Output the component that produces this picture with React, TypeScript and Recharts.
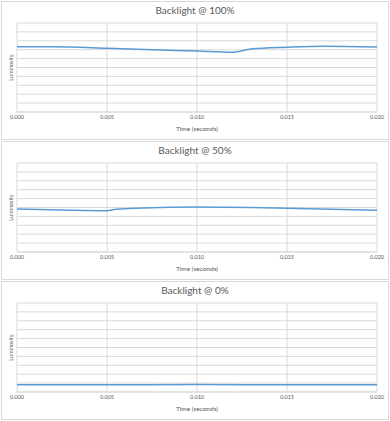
import React from "react";
import {
  LineChart,
  Line,
  XAxis,
  YAxis,
  CartesianGrid,
  Label,
} from "recharts";

const timeTicks = [0, 0.005, 0.01, 0.015, 0.02];
const yTicks = [0, 1, 2, 3, 4, 5, 6, 7, 8, 9, 10];

const time100 = [0, 0.002, 0.005, 0.008, 0.01, 0.012, 0.013, 0.015, 0.017, 0.02];
const lum100 = [7.34, 7.32, 7.16, 6.97, 6.85, 6.71, 7.08, 7.27, 7.38, 7.3];

const time50 = [0, 0.0025, 0.005, 0.0055, 0.007, 0.01, 0.013, 0.015, 0.02];
const lum50 = [4.83, 4.72, 4.64, 4.8, 4.94, 5.06, 5.0, 4.91, 4.68];

const time0 = [0, 0.005, 0.01, 0.015, 0.02];
const lum0 = [0.82, 0.82, 0.83, 0.82, 0.82];

const panels = [
  { title: "Backlight @ 100%", time: time100, lum: lum100 },
  { title: "Backlight @ 50%", time: time50, lum: lum50 },
  { title: "Backlight @ 0%", time: time0, lum: lum0 },
];

const FONT = "Lato, 'Open Sans', sans-serif";
const GRID = "#d9d9d9";
const TEXT = "#595959";

const Panel = ({ title, time, lum, top }: any) => {
  const data = time.map((t: number, i: number) => ({ t, v: lum[i] }));
  return (
    <div style={{ position: "absolute", left: 0, top, width: 390, height: 140 }}>
      <div
        style={{
          position: "absolute",
          left: 1,
          top: 1,
          width: 386,
          height: 137,
          border: `1px solid ${GRID}`,
          pointerEvents: "none",
        }}
      />
      <div
        style={{
          position: "absolute",
          left: 0,
          top: 4,
          width: 390,
          textAlign: "center",
          fontFamily: FONT,
          fontSize: 10,
          lineHeight: "12px",
          color: TEXT,
        }}
      >
        {title}
      </div>
      <LineChart
        width={390}
        height={140}
        data={data}
        margin={{ top: 23, right: 13, left: 0, bottom: 0 }}
        style={{ position: "absolute", left: 0, top: 0 }}
      >
        <CartesianGrid stroke={GRID} />
        <XAxis
          dataKey="t"
          type="number"
          domain={[0, 0.02]}
          ticks={timeTicks}
          tickFormatter={(v: number) => v.toFixed(3)}
          tickLine={false}
          tickSize={0}
          tickMargin={3}
          axisLine={{ stroke: GRID }}
          height={28}
          tick={{ fontSize: 5.5, fill: TEXT, fontFamily: FONT }}
          interval={0}
        >
          <Label
            value="Time (seconds)"
            position="insideBottom"
            offset={9}
            style={{ fontSize: 6.5, fill: TEXT, fontFamily: FONT }}
          />
        </XAxis>
        <YAxis
          type="number"
          domain={[0, 10]}
          ticks={yTicks}
          interval={0}
          tick={() => null}
          tickLine={false}
          axisLine={false}
          width={17}
        >
          <Label
            value="Luminosity"
            angle={-90}
            position="center"
            dx={3}
            style={{ fontSize: 5.5, fill: TEXT, fontFamily: FONT }}
          />
        </YAxis>
        <Line
          type="monotone"
          dataKey="v"
          stroke="#5b9bd5"
          strokeWidth={1.5}
          dot={false}
          isAnimationActive={false}
        />
      </LineChart>
    </div>
  );
};

export default function App() {
  return (
    <div style={{ position: "fixed", left: 0, top: 0, width: 390, height: 421, background: "#fff" }}>
      {panels.map((p, i) => (
        <Panel key={p.title} title={p.title} time={p.time} lum={p.lum} top={i * 140} />
      ))}
    </div>
  );
}
